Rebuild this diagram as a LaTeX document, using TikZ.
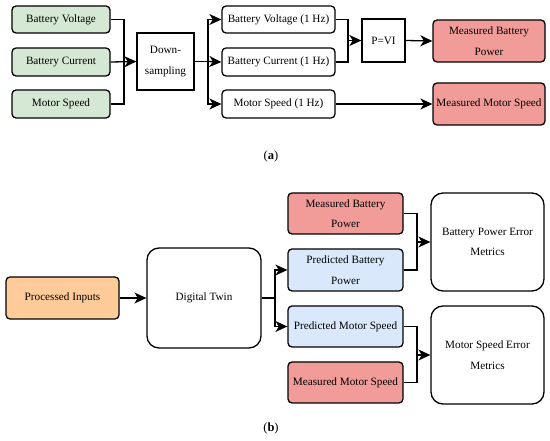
\documentclass[tikz,border=0pt]{standalone}
\usepackage{fontspec}
\setmainfont{Liberation Serif}
\usetikzlibrary{arrows.meta}
\definecolor{cgreen}{HTML}{D5E8D4}
\definecolor{cred}{HTML}{F19C99}
\definecolor{cblue}{HTML}{DAE8FC}
\definecolor{corange}{HTML}{FFCC99}
\tikzset{
  box/.style={draw=black, line width=1.3pt, rounded corners=4pt, align=center, inner sep=0pt, font=\fontsize{11.2}{20.5}\selectfont},
  sqbox/.style={box, rounded corners=0pt},
  bigbox/.style={box, rounded corners=12pt},
  conn/.style={line width=1.3pt, -{Stealth[length=12pt,width=11pt,inset=3.5pt]}},
  plain/.style={line width=1.3pt},
}
\begin{document}
\begin{tikzpicture}[x=1pt,y=-1pt]
\useasboundingbox (0,0) rectangle (550,441);
% ---------- (a)
\node[box, fill=cgreen, minimum width=98pt, minimum height=27pt] (bv) at (61,19.5) {Battery Voltage};
\node[box, fill=cgreen, minimum width=98pt, minimum height=28pt] (bc) at (61,62) {Battery Current};
\node[box, fill=cgreen, minimum width=98pt, minimum height=28pt] (ms) at (61,104) {Motor Speed};
\node[sqbox, fill=white, minimum width=57pt, minimum height=57pt] (ds) at (165.5,61.5) {Down-\\sampling};
\node[box, fill=white, minimum width=113pt, minimum height=27pt] (bv1) at (278.5,19.5) {Battery Voltage (1 Hz)};
\node[box, fill=white, minimum width=113pt, minimum height=28pt] (bc1) at (278.5,62) {Battery Current (1 Hz)};
\node[box, fill=white, minimum width=113pt, minimum height=28pt] (ms1) at (278.5,104) {Motor Speed (1 Hz)};
\node[sqbox, fill=white, minimum width=43pt, minimum height=43pt] (pvi) at (383.5,40.5) {P=VI};
\node[box, fill=cred, minimum width=112pt, minimum height=42pt] (mbp) at (489,41) {Measured Battery\\Power};
\node[box, fill=cred, minimum width=112pt, minimum height=42pt] (mms) at (489,104) {Measured Motor Speed};
\coordinate (ja) at (124,61.5);
\coordinate (jb) at (208,61.5);
\coordinate (jc) at (348,40.5);
\draw[plain] (bv.east) -| (ja);
\draw[plain] (ms.east) -| (ja);
\draw[conn] (bc.east) -- (ds.west);
\draw[plain] (ds.east) -- (jb);
\draw[conn] (jb) |- (bv1.west);
\draw[conn] (jb) |- (ms1.west);
\draw[conn] (jb) -- (bc1.west);
\draw[plain] (bv1.east) -| (jc);
\draw[plain] (bc1.east) -| (jc);
\draw[conn] (jc) -- (pvi.west);
\draw[conn] (pvi.east) -- (mbp.west);
\draw[conn] (ms1.east) -- (mms.west);
\node[font=\fontsize{12.5}{14}\selectfont] (capa) at (271,156) {(\textbf{a})};
% ---------- (b)
\node[box, fill=corange, minimum width=113pt, minimum height=42pt] (pi) at (62.5,298) {Processed Inputs};
\node[bigbox, fill=white, minimum width=114pt, minimum height=100pt] (dt) at (204,298) {Digital Twin};
\node[box, fill=cred, minimum width=115pt, minimum height=41pt] (mbp2) at (345.5,213.5) {Measured Battery\\Power};
\node[box, fill=cblue, minimum width=115pt, minimum height=42pt] (pbp) at (345.5,270) {Predicted Battery\\Power};
\node[box, fill=cblue, minimum width=115pt, minimum height=41pt] (pms) at (345.5,326.5) {Predicted Motor Speed};
\node[box, fill=cred, minimum width=115pt, minimum height=41pt] (mms2) at (345.5,382.5) {Measured Motor Speed};
\node[bigbox, fill=white, minimum width=113pt, minimum height=98pt] (bpe) at (487.5,242) {Battery Power Error\\Metrics};
\node[bigbox, fill=white, minimum width=113pt, minimum height=98pt] (mse) at (487.5,355) {Motor Speed Error\\Metrics};
\coordinate (jd) at (275,298);
\coordinate (je) at (417,242);
\coordinate (jf) at (417,355);
\draw[conn] (pi.east) -- (dt.west);
\draw[plain] (dt.east) -- (jd);
\draw[conn] (jd) |- (pbp.west);
\draw[conn] (jd) |- (pms.west);
\draw[plain] (mbp2.east) -| (je);
\draw[plain] (pbp.east) -| (je);
\draw[conn] (je) -- (bpe.west);
\draw[plain] (pms.east) -| (jf);
\draw[plain] (mms2.east) -| (jf);
\draw[conn] (jf) -- (mse.west);
\node[font=\fontsize{12.5}{14}\selectfont] (capb) at (271,428) {(\textbf{b})};
\end{tikzpicture}
\end{document}
